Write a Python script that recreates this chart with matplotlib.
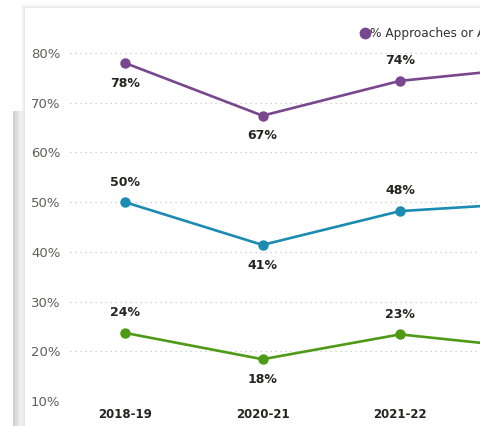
import matplotlib.pyplot as plt
from matplotlib.patches import Rectangle

# data (the 4th year is cut off at the right edge)
years = ["2018-19", "2020-21", "2021-22", "2022-23"]
approaches = [78.0, 67.4, 74.4, 77.2]
meets = [50.0, 41.4, 48.2, 49.9]
masters = [23.7, 18.4, 23.4, 20.5]
series_names = ["% Approaches or Above", "% Meets or Above", "% Masters"]
colors = ["#78478F", "#1B8BB1", "#4E9A16"]
# which side each data label sits on (+1 above, -1 below); the 4th label is off-crop
label_side = [[-1, -1, 1], [1, -1, 1], [1, -1, 1]]

W, H = 480, 426
fig = plt.figure(figsize=(4.8, 4.26), dpi=100)
fig.patch.set_facecolor("white")


def px_rect(x0, y0, x1, y1, **kw):
    # rectangle given in pixel coords (origin top-left)
    r = Rectangle((x0 / W, 1 - y1 / H), (x1 - x0) / W, (y1 - y0) / H,
                  transform=fig.transFigure, zorder=-10, **kw)
    fig.patches.append(r)


# card shadows
for i, a in enumerate([0.015, 0.02, 0.025, 0.03]):
    px_rect(25 - 4 + i, 8 - 4 + i, 600, 500, facecolor="black", alpha=a, lw=0)
px_rect(25, 8, 600, 500, facecolor="white", lw=0)
for i, a in enumerate([0.02, 0.03, 0.04, 0.05, 0.06]):
    px_rect(-10, 111, 13 + 12 - i * 2.4, 500, facecolor="black", alpha=a, lw=0)
px_rect(-10, 111, 13, 500, facecolor="white", lw=0)

# axes placed so the x positions match the screenshot; it runs off the right edge
left_px, right_px, bottom_px = 70, 625, 401
ymin, ymax = 10, 82
ppu = 4.971  # pixels per percent
top_px = bottom_px - (ymax - ymin) * ppu
ax = fig.add_axes([left_px / W, 1 - bottom_px / H,
                   (right_px - left_px) / W, (bottom_px - top_px) / H])
ax.set_facecolor("none")
x = list(range(len(years)))
ax.set_xlim((left_px - 125) / 137.5, (right_px - 125) / 137.5)
ax.set_ylim(ymin, ymax)

all_series = [approaches, meets, masters]
for vals, name, c, sides in zip(all_series, series_names, colors, label_side):
    ax.plot(x, vals, color=c, lw=1.9, marker="o", ms=6.5, label=name,
            clip_on=False, solid_capstyle="round")
    for xi, v, s in zip(x, vals, sides):
        ax.annotate(f"{v:.0f}%", (xi, v), xytext=(0, 14.5 * s), textcoords="offset points",
                    ha="center", va="center", fontsize=9, fontweight="bold",
                    color="#252423", annotation_clip=False)

ax.set_yticks(range(10, 81, 10))
ax.set_yticklabels([f"{t}%" for t in range(10, 81, 10)])
ax.set_xticks(x)
ax.set_xticklabels(years, fontweight="bold")
ax.tick_params(axis="y", length=0, pad=7, labelsize=9.5, labelcolor="#605E5C")
ax.tick_params(axis="x", length=0, pad=5, labelsize=8.5, labelcolor="#252423")
ax.grid(axis="y", color="#C8C6C4", linestyle=(0, (1, 3)), lw=0.9)
ax.set_axisbelow(True)
for sp in ax.spines.values():
    sp.set_visible(False)

fig.legend(loc="upper left", bbox_to_anchor=(350 / W, 1 - 16 / H), ncol=3, frameon=False,
           fontsize=8.7, handlelength=0.6, handletextpad=0.15, columnspacing=1.2,
           labelcolor="#323130", markerscale=1.15)
for h in fig.legends[0].legend_handles:
    h.set_linestyle("none")

fig.savefig("out.png", dpi=100)
